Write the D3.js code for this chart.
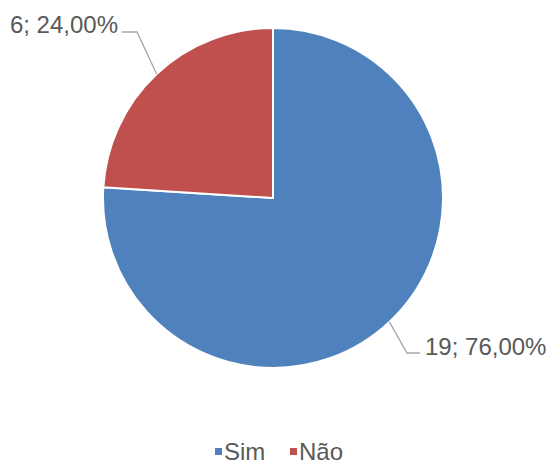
<!DOCTYPE html>
<html>
<head>
<meta charset="utf-8">
<script src="https://cdn.jsdelivr.net/npm/d3@7/dist/d3.min.js"></script>
<style>
  html, body { margin: 0; padding: 0; background: #fff; }
  svg { display: block; }
  text { font-family: "Liberation Sans", Arial, sans-serif; fill: #595959; }
</style>
</head>
<body>
<svg id="chart" width="550" height="466"></svg>
<script>
// Respostas: contagem por categoria
const categories = ["Sim", "Não"];
const counts = [19, 6];
const percents = ["76,00%", "24,00%"];
const colors = ["#4F81BD", "#C0504D"];

const svg = d3.select("#chart");
const cx = 273, cy = 198, radius = 170;

const pie = d3.pie().sort(null).value(d => d.count);
const data = categories.map((c, i) => ({ name: c, count: counts[i], pct: percents[i], color: colors[i] }));
const arcs = pie(data);

const arc = d3.arc().innerRadius(0).outerRadius(radius);
const g = svg.append("g").attr("transform", `translate(${cx},${cy})`);

g.selectAll("path.slice")
  .data(arcs)
  .enter().append("path")
  .attr("class", "slice")
  .attr("d", arc)
  .attr("fill", d => d.data.color)
  .attr("stroke", "#fff")
  .attr("stroke-width", 2);

// Rótulos com linhas de chamada
const edge = d3.arc().innerRadius(radius).outerRadius(radius);
const labelLayout = {
  "Sim": { elbow: [134, 155], end: [147, 155], text: [152, 157], anchor: "start" },
  "Não": { elbow: [-136, -166], end: [-151, -166], text: [-155, -165], anchor: "end" }
};

arcs.forEach(d => {
  const L = labelLayout[d.data.name];
  const p = edge.centroid(d);
  g.append("polyline")
    .attr("points", [p, L.elbow, L.end].map(q => q.join(",")).join(" "))
    .attr("fill", "none")
    .attr("stroke", "#A6A6A6")
    .attr("stroke-width", 1.3);
  g.append("text")
    .attr("x", L.text[0])
    .attr("y", L.text[1])
    .attr("text-anchor", L.anchor)
    .attr("font-size", 24)
    .text(`${d.data.count}; ${d.data.pct}`);
});

// Legenda
const legend = svg.append("g").attr("transform", "translate(215,448)");
const legendX = [0, 75];
data.forEach((d, i) => {
  const item = legend.append("g").attr("transform", `translate(${legendX[i]},0)`);
  item.append("rect").attr("width", 7).attr("height", 7).attr("fill", d.color);
  item.append("text").attr("x", 9).attr("y", 12).attr("font-size", 24).text(d.name);
});
</script>
</body>
</html>
